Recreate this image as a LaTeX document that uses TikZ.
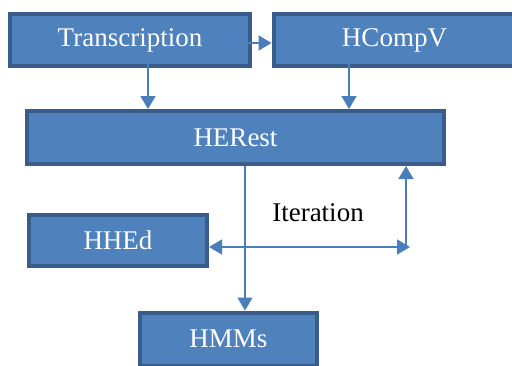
\documentclass[tikz,border=0pt]{standalone}
\usepackage{fontspec}
\setmainfont{Liberation Serif}
\usetikzlibrary{arrows.meta}
\definecolor{boxfill}{HTML}{4F81BD}
\definecolor{boxedge}{HTML}{385D8A}
\definecolor{linkcol}{HTML}{4A7EBB}
\begin{document}
\begin{tikzpicture}[x=1pt,y=-1pt,
  stage/.style={rectangle, fill=boxfill, draw=boxedge, line width=4pt,
    text=white, font=\fontsize{27}{30}\selectfont, inner sep=0pt},
  link/.style={draw=linkcol, line width=1.6pt,
    -{Triangle[width=15pt,length=13pt]}},
  dbl/.style={draw=linkcol, line width=1.6pt,
    {Triangle[width=15pt,length=13pt]}-{Triangle[width=15pt,length=13pt]}}]
\useasboundingbox (0,0) rectangle (512,365);
\clip (0,0) rectangle (512,365);

\node[stage, minimum width=240pt, minimum height=52pt] (tr) at (130,40) {Transcription};
\node[stage, minimum width=242pt, minimum height=52pt] (hc) at (394.5,40) {HCompV};
\node[stage, minimum width=417pt, minimum height=53pt] (he) at (235.5,137.5) {HERest};
\node[stage, minimum width=178pt, minimum height=51pt] (hh) at (118,240.5) {HHEd};
\node[stage, minimum width=177pt, minimum height=53pt] (hm) at (228.5,339) {HMMs};
\node[font=\fontsize{27}{30}\selectfont, text=black] (it) at (318,213) {Iteration};

% links between the stages
\coordinate (t0) at ([shift={(-24pt,-3pt)}]tr.east);
\draw[link] (t0) -- (t0 -| hc.west);
\coordinate (t1) at ([shift={(18pt,8pt)}]tr.south);
\draw[link] (t1) -- (t1 |- he.north);
\coordinate (h1) at ([shift={(-45.5pt,8pt)}]hc.south);
\draw[link] (h1) -- (h1 |- he.north);
\coordinate (e1) at ([xshift=9.5pt]he.south);
\draw[link] (e1) -- (e1 |- hm.north);

% iteration loop
\coordinate (c) at (406,247);
\draw[dbl] (hh.east |- c) -- ([xshift=4pt]c);
\draw[link] (c) -- (c |- he.south);
\end{tikzpicture}
\end{document}
